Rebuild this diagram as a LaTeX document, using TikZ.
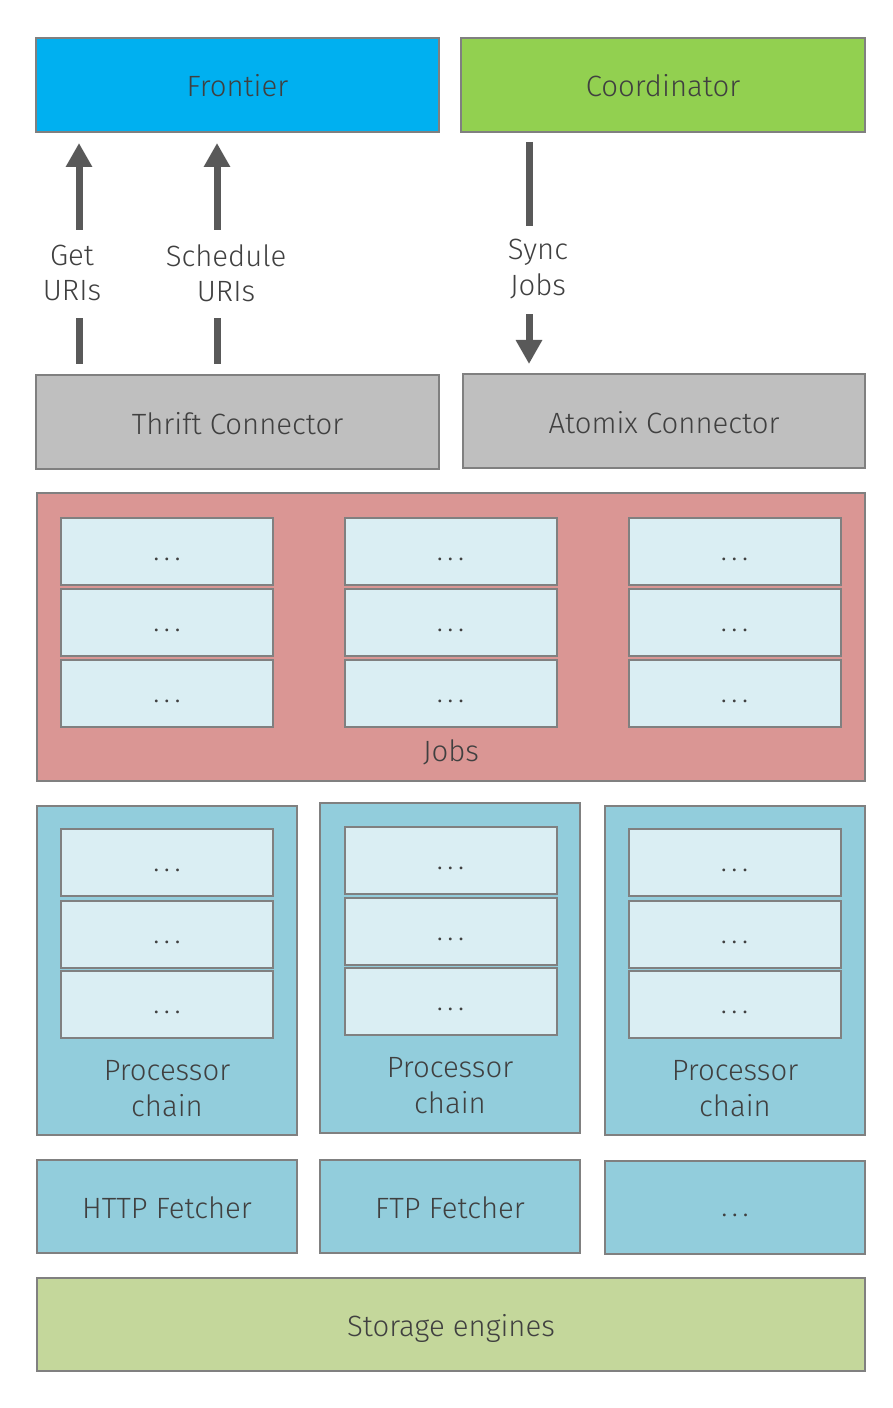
\documentclass[tikz,border=0pt]{standalone}
\usepackage{fontspec}
\setmainfont{Fira Sans Light}
\usetikzlibrary{arrows.meta}
\definecolor{frontc}{HTML}{00B0F0}
\definecolor{coordc}{HTML}{92D050}
\definecolor{connc}{HTML}{BFBFBF}
\definecolor{jobsc}{HTML}{DA9694}
\definecolor{cellc}{HTML}{DAEEF3}
\definecolor{procc}{HTML}{92CDDC}
\definecolor{storc}{HTML}{C4D79B}
\definecolor{bordc}{HTML}{808080}
\definecolor{txtc}{HTML}{404040}
\definecolor{arrc}{HTML}{595959}
\newcommand{\vstr}{\rule[-6pt]{0pt}{30pt}}
\newcommand{\mydots}{\rule[-6pt]{0pt}{25.5pt}.\kern3.4pt.\kern3.4pt.}
\begin{document}
\begin{tikzpicture}[x=0.75pt,y=-0.75pt,
  txt/.style={text=txtc,font=\fontsize{22}{26.5}\selectfont,align=center},
  box/.style={txt,draw=bordc,line width=1.5pt,inner sep=0pt},
  cell/.style={box,fill=cellc,minimum width=159pt,minimum height=50.25pt},
  proc/.style={box,fill=procc,minimum width=195pt},
  lbl/.style={txt,inner sep=0pt,minimum height=66pt},
  seg/.style={draw=arrc,line width=5.25pt},
  arr/.style={seg,-{Triangle[width=18.75pt,length=18pt]}}]
\useasboundingbox (0,0) rectangle (892,1408);
% top row
\node[box,fill=frontc,minimum width=302.25pt,minimum height=70.5pt] (frontier) at (237.5,85) {\vstr Frontier};
\node[box,fill=coordc,minimum width=303pt,minimum height=70.5pt] (coord) at (663,85) {\vstr Coordinator};
% connectors
\node[box,fill=connc,minimum width=302.25pt,minimum height=70.5pt] (thrift) at (237.5,422) {\vstr Thrift Connector};
\node[box,fill=connc,minimum width=301.5pt,minimum height=70.5pt] (atomix) at (664,421) {\vstr Atomix Connector};
% arrow labels
\node[lbl] (getlbl) at (72,273) {Get\\URIs};
\node[lbl] (schedlbl) at (226,273) {Schedule\\URIs};
\node[lbl] (synclbl) at (538,269) {Sync\\Jobs};
\coordinate (gx) at (79,0);
\coordinate (sx) at (217,0);
\coordinate (yx) at (529,0);
\draw[seg,shorten <=7.5pt] (gx |- thrift.north) -- ([yshift=-0.75pt]gx |- getlbl.south);
\draw[arr,shorten >=7.5pt] ([yshift=-0.75pt]gx |- getlbl.north) -- (gx |- frontier.south);
\draw[seg,shorten <=7.5pt] (sx |- thrift.north) -- ([yshift=-0.75pt]sx |- schedlbl.south);
\draw[arr,shorten >=7.5pt] ([yshift=-0.75pt]sx |- schedlbl.north) -- (sx |- frontier.south);
\draw[seg,shorten <=6.75pt] (yx |- coord.south) -- ([yshift=-0.75pt]yx |- synclbl.north);
\draw[arr,shorten >=6.75pt] ([yshift=-0.75pt]yx |- synclbl.south) -- (yx |- atomix.north);
% jobs
\node[box,fill=jobsc,minimum width=621pt,minimum height=216pt] (jobs) at (451,637) {};
\node[txt] (jobslbl) at (451,752) {Jobs};
\foreach \cx/\cn in {167/a,450.5/b,734.5/c}
  \foreach \cy/\rn in {551/1,622/2,693/3}
    \node[cell] (j\cn\rn) at (\cx,\cy) {\mydots};
% processor chains
\node[proc,minimum height=246.75pt] (pc1) at (167,970.5) {};
\node[proc,minimum height=247.5pt] (pc2) at (450,968) {};
\node[proc,minimum height=246.75pt] (pc3) at (735,970.5) {};
\foreach \cy/\rn in {862.5/1,934/2,1004.5/3}
  \node[cell] (pa\rn) at (167,\cy) {\mydots};
\foreach \cy/\rn in {860/1,931/2,1001.5/3}
  \node[cell] (pb\rn) at (450.5,\cy) {\mydots};
\foreach \cy/\rn in {862.5/1,934/2,1004.5/3}
  \node[cell] (pc\rn) at (734.5,\cy) {\mydots};
\node[txt] (pl1) at (167,1088.5) {Processor\\chain};
\node[txt] (pl2) at (450,1085.5) {Processor\\chain};
\node[txt] (pl3) at (735,1088.5) {Processor\\chain};
% fetchers
\node[proc,minimum height=69.75pt] (http) at (167,1206.5) {\vstr HTTP Fetcher};
\node[proc,minimum height=69.75pt] (ftp) at (450,1206.5) {\vstr FTP Fetcher};
\node[proc,minimum height=69.75pt] (more) at (735,1207.5) {\mydots};
% storage
\node[box,fill=storc,minimum width=621pt,minimum height=69.75pt] (storage) at (451,1324.5) {\vstr Storage engines};
\end{tikzpicture}
\end{document}
